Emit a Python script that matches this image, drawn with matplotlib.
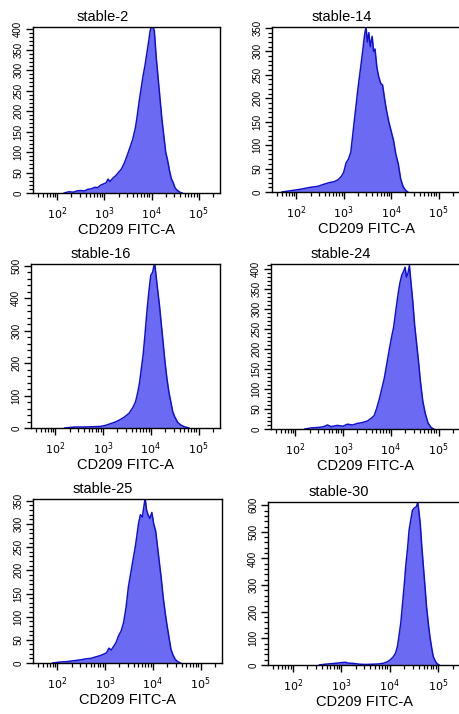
import numpy as np
import matplotlib
matplotlib.use('Agg')
import matplotlib.pyplot as plt
from matplotlib.ticker import MultipleLocator, FixedLocator

plt.rcParams['font.family'] = ['Liberation Sans', 'DejaVu Sans']

# log10(CD209 FITC-A) positions and event counts
titles = ['stable-2', 'stable-14', 'stable-16', 'stable-24', 'stable-25', 'stable-30']

x1 = [2.15, 2.25, 2.35, 2.42, 2.5, 2.58, 2.65, 2.72, 2.8, 2.86, 2.92, 2.98, 3.04, 3.08, 3.12, 3.18, 3.24,
      3.3, 3.36, 3.42, 3.48, 3.54, 3.6, 3.66, 3.7, 3.74, 3.78, 3.82, 3.86, 3.9, 3.94, 3.97, 4.0, 4.03,
      4.06, 4.1, 4.14, 4.18, 4.22, 4.26, 4.3, 4.34, 4.38, 4.42, 4.46, 4.5, 4.55, 4.6, 4.65]
y1 = [0, 3, 2, 5, 6, 5, 9, 10, 14, 13, 19, 22, 25, 34, 28, 36, 42, 50, 58, 72, 90, 110, 130, 160, 190,
      225, 255, 285, 310, 340, 370, 395, 408, 408, 395, 330, 280, 230, 180, 140, 100, 80, 55, 35, 25,
      12, 6, 2, 0]

x2 = [1.7, 1.9, 2.1, 2.3, 2.45, 2.6, 2.7, 2.8, 2.88, 2.95, 3.0, 3.05, 3.1, 3.15, 3.2, 3.25, 3.3, 3.35,
      3.4, 3.44, 3.47, 3.5, 3.53, 3.56, 3.6, 3.63, 3.66, 3.7, 3.74, 3.78, 3.82, 3.86, 3.9, 3.95, 4.0,
      4.05, 4.1, 4.15, 4.2, 4.25, 4.3, 4.35]
y2 = [0, 3, 6, 10, 12, 17, 20, 22, 26, 33, 42, 62, 70, 85, 130, 175, 220, 260, 300, 335, 352, 320, 340,
      310, 332, 300, 305, 265, 245, 232, 228, 200, 175, 150, 130, 110, 80, 60, 28, 12, 4, 0]

x3 = [2.2, 2.4, 2.6, 2.8, 2.95, 3.05, 3.15, 3.25, 3.35, 3.45, 3.55, 3.62, 3.68, 3.72, 3.76, 3.8, 3.84,
      3.88, 3.92, 3.96, 4.0, 4.04, 4.08, 4.11, 4.14, 4.18, 4.22, 4.26, 4.3, 4.34, 4.38, 4.42, 4.46, 4.5,
      4.56, 4.62, 4.7, 4.8]
y3 = [0, 3, 3, 4, 5, 8, 13, 18, 25, 34, 46, 62, 80, 105, 135, 180, 225, 290, 360, 420, 470, 480, 510,
      470, 430, 380, 320, 260, 200, 150, 110, 80, 50, 35, 18, 10, 4, 0]

x4 = [2.2, 2.35, 2.5, 2.6, 2.67, 2.75, 2.88, 3.0, 3.09, 3.2, 3.3, 3.4, 3.51, 3.58, 3.65, 3.7, 3.76,
      3.81, 3.86, 3.92, 3.97, 4.02, 4.06, 4.11, 4.15, 4.19, 4.23, 4.27, 4.3, 4.33, 4.36, 4.39, 4.42,
      4.46, 4.5, 4.54, 4.58, 4.62, 4.67, 4.72, 4.78, 4.85, 4.9]
y4 = [0, 3, 4, 6, 10, 6, 9, 7, 12, 10, 14, 16, 20, 26, 33, 50, 75, 100, 125, 165, 200, 232, 255, 300,
      335, 365, 385, 395, 405, 380, 390, 410, 370, 320, 260, 215, 170, 120, 70, 40, 15, 3, 0]

x5 = [1.9, 2.05, 2.2, 2.35, 2.5, 2.6, 2.7, 2.8, 2.9, 2.97, 3.03, 3.08, 3.13, 3.18, 3.23, 3.28, 3.34,
      3.39, 3.44, 3.49, 3.54, 3.59, 3.64, 3.7, 3.74, 3.78, 3.81, 3.84, 3.87, 3.9, 3.94, 3.98, 4.02,
      4.06, 4.1, 4.14, 4.18, 4.22, 4.26, 4.3, 4.34, 4.38, 4.42, 4.47, 4.52, 4.58]
y5 = [0, 2, 3, 5, 7, 9, 10, 13, 16, 19, 22, 32, 28, 36, 44, 58, 70, 88, 120, 165, 195, 225, 255, 300,
      320, 315, 335, 356, 330, 320, 312, 325, 300, 285, 250, 215, 180, 140, 108, 80, 55, 30, 18, 8, 3, 0]

x6 = [2.55, 2.67, 2.8, 2.92, 3.0, 3.09, 3.15, 3.25, 3.38, 3.5, 3.65, 3.78, 3.88, 3.95, 4.01, 4.07,
      4.12, 4.16, 4.19, 4.23, 4.26, 4.3, 4.33, 4.37, 4.4, 4.44, 4.47, 4.51, 4.55, 4.58, 4.6, 4.63, 4.66,
      4.69, 4.73, 4.76, 4.8, 4.83, 4.87, 4.9, 4.94, 4.97, 5.02]
y6 = [0, 3, 5, 7, 9, 10, 7, 6, 3, 2, 3, 4, 7, 12, 19, 30, 44, 70, 106, 160, 219, 300, 369, 440, 506,
      550, 581, 590, 594, 612, 580, 531, 450, 381, 290, 219, 150, 106, 60, 31, 15, 6, 0]

xs = [x1, x2, x3, x4, x5, x6]
ys = [y1, y2, y3, y4, y5, y6]
ymax = [405, 352, 505, 413, 354, 612]
ymajor = [50, 50, 100, 50, 50, 100]
yminor = [10, 10, 20, 10, 10, 20]

# axes boxes in pixels: left, bottom, width, height
boxes = [(33, 193, 187, 166), (272, 192, 188, 165),
         (31, 428, 189, 164), (271, 429, 189, 165),
         (33, 663, 189, 164), (268, 665, 192, 163)]

W, H = 459, 714
fig = plt.figure(figsize=(W / 100, H / 100), dpi=100)

minor_x = [np.log10(k * 10 ** n) for n in range(1, 6) for k in range(2, 10)]

for i in range(6):
    l, b, w, h = boxes[i]
    ax = fig.add_axes([l / W, 1 - b / H, w / W, h / H])
    ax.fill_between(xs[i], ys[i], 0, color='#6a6af2', lw=0)
    ax.plot(xs[i], ys[i], color='#1010d0', lw=1.1)
    ax.set_xlim(1.49, 5.45)
    ax.set_ylim(0, ymax[i])
    ax.set_xticks([2, 3, 4, 5])
    ax.set_xticklabels(['$10^2$', '$10^3$', '$10^4$', '$10^5$'])
    ax.xaxis.set_minor_locator(FixedLocator(minor_x))
    ax.yaxis.set_major_locator(MultipleLocator(ymajor[i]))
    ax.yaxis.set_minor_locator(MultipleLocator(yminor[i]))
    ax.tick_params(axis='x', which='major', length=5, width=1, labelsize=8, pad=4)
    ax.tick_params(axis='x', which='minor', length=3, width=0.9)
    ax.tick_params(axis='y', which='major', length=5, width=1, labelsize=7, pad=2,
                   labelrotation=90)
    ax.tick_params(axis='y', which='minor', length=3, width=0.9)
    for t in ax.get_yticklabels():
        t.set_va('center')
    for s in ax.spines.values():
        s.set_linewidth(1)
    ax.set_xlabel('CD209 FITC-A', fontsize=10.5, labelpad=1)
    ax.text(0.37, 1.02, titles[i], transform=ax.transAxes, ha='center', va='bottom',
            fontsize=10.5)

plt.savefig('out.png', dpi=100)
